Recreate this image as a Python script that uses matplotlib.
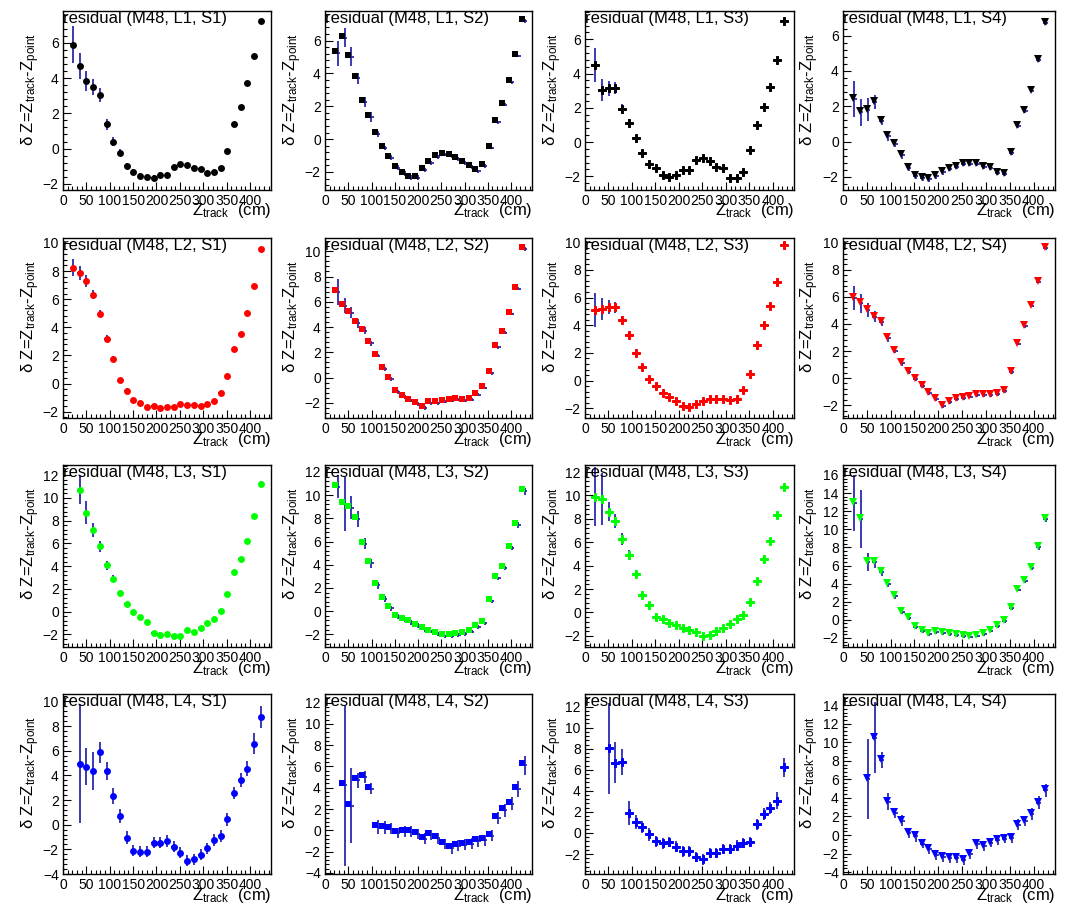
import matplotlib
matplotlib.use("Agg")
import matplotlib.pyplot as plt
from matplotlib.ticker import MultipleLocator, AutoMinorLocator
from matplotlib.transforms import offset_copy

plt.rcParams['font.family'] = ['Liberation Sans', 'DejaVu Sans']
plt.rcParams['mathtext.default'] = 'regular'

# z bin centres (cm)
z_bins = [7.2, 21.55, 35.9, 50.25, 64.6, 78.95, 93.3, 107.65, 122.0, 136.35,
          150.7, 165.05, 179.4, 193.75, 208.1, 222.45, 236.8, 251.15, 265.5,
          279.85, 294.2, 308.55, 322.9, 337.25, 351.6, 365.95, 380.3, 394.65,
          409.0, 423.35, 437.7]

layers = ["L1", "L2", "L3", "L4"]
stations = ["S1", "S2", "S3", "S4"]

# first filled bin per panel
first_bin = {
    "L1": [1, 1, 1, 1],
    "L2": [1, 1, 1, 1],
    "L3": [2, 1, 1, 1],
    "L4": [2, 2, 3, 3],
}

# ---- residuals and errors ----
L1_S1_dz = [5.9, 4.68, 3.83, 3.47, 3.03, 1.38, 0.38, -0.25, -0.98, -1.33, -1.55, -1.6, -1.67, -1.48, -1.48,
            -1.04, -0.89, -0.95, -1.12, -1.17, -1.38, -1.34, -1.12, -0.13, 1.38, 2.33, 3.69, 5.25, 7.22]
L1_S1_err = [1.07, 0.75, 0.55, 0.45, 0.4, 0.3, 0.25, 0.2, 0.18, 0.15, 0.15, 0.15, 0.15, 0.15, 0.15,
             0.12, 0.12, 0.12, 0.12, 0.12, 0.12, 0.12, 0.12, 0.1, 0.1, 0.1, 0.1, 0.1, 0.12]
L1_S2_dz = [5.35, 6.3, 5.15, 3.82, 2.36, 1.45, 0.44, -0.42, -1.0, -1.62, -1.98, -2.22, -2.22, -1.78, -1.35,
            -0.97, -0.83, -0.91, -1.09, -1.33, -1.58, -1.84, -1.52, -0.42, 1.15, 2.22, 3.58, 5.19, 7.31]
L1_S2_err = [0.75, 0.6, 0.55, 0.35, 0.3, 0.3, 0.2, 0.15, 0.15, 0.15, 0.15, 0.15, 0.15, 0.12, 0.12,
             0.1, 0.1, 0.1, 0.1, 0.1, 0.1, 0.1, 0.1, 0.08, 0.08, 0.08, 0.08, 0.08, 0.1]
L1_S3_dz = [4.48, 3.04, 3.14, 3.14, 1.92, 1.1, 0.23, -0.64, -1.26, -1.51, -1.94, -2.05, -1.94, -1.65, -1.61,
            -1.05, -0.93, -1.09, -1.45, -1.51, -2.11, -2.11, -1.76, -0.48, 1.01, 2.05, 3.24, 4.79, 7.07]
L1_S3_err = [1.0, 0.65, 0.45, 0.35, 0.3, 0.25, 0.2, 0.2, 0.2, 0.15, 0.15, 0.15, 0.15, 0.15, 0.15,
             0.12, 0.12, 0.12, 0.12, 0.12, 0.12, 0.12, 0.12, 0.1, 0.08, 0.08, 0.08, 0.08, 0.1]
L1_S4_dz = [2.47, 1.71, 1.85, 2.28, 1.24, 0.36, -0.08, -0.73, -1.43, -1.9, -2.0, -2.05, -1.9, -1.68, -1.49,
            -1.37, -1.21, -1.21, -1.24, -1.41, -1.45, -1.71, -1.79, -0.6, 0.96, 1.77, 2.94, 4.69, 6.8]
L1_S4_err = [1.0, 0.75, 0.65, 0.4, 0.25, 0.25, 0.2, 0.2, 0.18, 0.18, 0.18, 0.18, 0.18, 0.15, 0.15,
             0.12, 0.12, 0.12, 0.12, 0.12, 0.12, 0.12, 0.12, 0.12, 0.12, 0.1, 0.1, 0.1, 0.12]

L2_S1_dz = [8.24, 7.83, 7.29, 6.33, 4.95, 3.19, 1.76, 0.24, -0.5, -1.17, -1.4, -1.64, -1.57, -1.71, -1.64,
            -1.64, -1.48, -1.52, -1.52, -1.6, -1.48, -1.24, -0.64, 0.55, 2.45, 3.55, 5.0, 6.93, 9.55]
L2_S1_err = [0.6, 0.5, 0.45, 0.35, 0.25, 0.25, 0.2, 0.15, 0.15, 0.15, 0.15, 0.15, 0.15, 0.15, 0.15,
             0.12, 0.12, 0.12, 0.12, 0.12, 0.12, 0.12, 0.12, 0.1, 0.1, 0.1, 0.1, 0.1, 0.12]
L2_S2_dz = [6.94, 5.86, 5.3, 4.46, 3.88, 2.88, 1.9, 0.82, 0.03, -1.0, -1.35, -1.66, -1.93, -2.22, -1.87,
            -1.87, -1.77, -1.69, -1.61, -1.66, -1.61, -1.21, -0.66, 0.5, 2.56, 3.72, 5.2, 7.2, 10.34]
L2_S2_err = [1.0, 0.6, 0.45, 0.35, 0.3, 0.2, 0.15, 0.15, 0.15, 0.15, 0.15, 0.15, 0.15, 0.15, 0.12,
             0.12, 0.12, 0.12, 0.12, 0.12, 0.12, 0.12, 0.1, 0.1, 0.1, 0.1, 0.1, 0.1, 0.15]
L2_S3_dz = [5.1, 5.2, 5.3, 5.3, 4.4, 3.3, 2.0, 1.0, 0.1, -0.4, -0.9, -1.2, -1.5, -1.8, -1.9,
            -1.7, -1.5, -1.3, -1.3, -1.3, -1.4, -1.3, -0.7, 0.5, 2.6, 4.0, 5.4, 7.1, 9.8]
L2_S3_err = [1.2, 0.8, 0.5, 0.4, 0.3, 0.25, 0.2, 0.2, 0.15, 0.15, 0.15, 0.15, 0.15, 0.15, 0.15,
             0.12, 0.12, 0.12, 0.12, 0.12, 0.12, 0.12, 0.12, 0.1, 0.1, 0.1, 0.1, 0.1, 0.15]
L2_S4_dz = [6.0, 5.6, 5.1, 4.6, 4.2, 3.0, 2.1, 1.2, 0.5, 0.0, -0.5, -1.0, -1.5, -2.0, -1.7,
            -1.5, -1.4, -1.3, -1.2, -1.2, -1.2, -1.1, -0.9, 0.5, 2.6, 3.9, 5.4, 7.2, 9.7]
L2_S4_err = [0.9, 0.7, 0.5, 0.4, 0.3, 0.25, 0.2, 0.2, 0.15, 0.15, 0.15, 0.15, 0.15, 0.15, 0.15,
             0.12, 0.12, 0.12, 0.12, 0.12, 0.12, 0.12, 0.12, 0.1, 0.1, 0.1, 0.1, 0.1, 0.15]

L3_S1_dz = [10.74, 8.72, 7.16, 5.75, 4.08, 2.91, 1.64, 0.7, -0.03, -0.47, -0.91, -1.88, -2.02, -1.94,
            -2.14, -2.14, -1.64, -1.79, -1.44, -0.97, -0.62, 0.03, 1.53, 3.49, 4.67, 6.22, 8.42, 11.21]
L3_S1_err = [1.3, 1.05, 0.6, 0.5, 0.4, 0.3, 0.25, 0.2, 0.2, 0.2, 0.2, 0.2, 0.2, 0.2,
             0.2, 0.15, 0.15, 0.15, 0.15, 0.15, 0.15, 0.15, 0.15, 0.15, 0.15, 0.15, 0.2, 0.25]
L3_S2_dz = [10.9, 9.4, 9.1, 8.1, 6.0, 4.3, 2.4, 1.2, 0.4, -0.3, -0.6, -0.8, -1.1, -1.4, -1.6,
            -1.8, -2.0, -2.0, -1.9, -1.8, -1.6, -1.2, -0.9, 1.0, 3.0, 3.9, 5.6, 7.6, 10.5]
L3_S2_err = [1.0, 2.3, 1.0, 0.7, 0.5, 0.4, 0.3, 0.25, 0.2, 0.2, 0.2, 0.2, 0.2, 0.2, 0.15,
             0.15, 0.15, 0.15, 0.15, 0.15, 0.15, 0.15, 0.15, 0.15, 0.15, 0.15, 0.2, 0.25, 0.3]
L3_S3_dz = [9.9, 9.7, 8.6, 7.8, 6.3, 4.9, 3.3, 1.5, 0.6, -0.4, -0.6, -0.9, -1.1, -1.3, -1.5,
            -1.7, -2.0, -1.9, -1.6, -1.3, -1.0, -0.6, -0.2, 0.9, 2.7, 4.6, 6.1, 8.3, 10.7]
L3_S3_err = [2.5, 2.2, 0.8, 0.6, 0.5, 0.4, 0.3, 0.25, 0.2, 0.2, 0.2, 0.2, 0.2, 0.2, 0.15,
             0.15, 0.15, 0.15, 0.15, 0.15, 0.15, 0.15, 0.15, 0.15, 0.15, 0.15, 0.2, 0.25, 0.3]
L3_S4_dz = [12.97, 11.2, 6.47, 6.47, 5.36, 4.07, 2.7, 1.03, 0.3, -0.7, -1.11, -1.44, -1.26, -1.37, -1.5,
            -1.55, -1.7, -1.75, -1.62, -1.48, -1.07, -0.55, 0.0, 1.4, 3.44, 4.43, 5.84, 8.13, 11.27]
L3_S4_err = [3.1, 3.2, 1.0, 0.6, 0.4, 0.3, 0.3, 0.3, 0.2, 0.2, 0.2, 0.2, 0.2, 0.2, 0.2,
             0.2, 0.2, 0.2, 0.2, 0.2, 0.2, 0.2, 0.2, 0.2, 0.2, 0.2, 0.25, 0.3, 0.4]

L4_S1_dz = [4.96, 4.69, 4.34, 5.88, 4.34, 2.35, 0.7, -1.05, -2.13, -2.18, -2.21, -1.46, -1.46, -1.32,
            -1.78, -2.26, -2.94, -2.8, -2.45, -1.91, -1.24, -0.92, 0.43, 2.59, 3.61, 4.53, 6.58, 8.71]
L4_S1_err = [4.85, 1.5, 1.55, 0.85, 0.75, 0.65, 0.55, 0.5, 0.45, 0.45, 0.45, 0.45, 0.45, 0.45,
             0.45, 0.45, 0.45, 0.45, 0.45, 0.45, 0.45, 0.45, 0.5, 0.5, 0.55, 0.6, 0.85, 0.9]
L4_S2_dz = [4.4, 2.5, 4.9, 5.2, 4.1, 0.5, 0.45, 0.35, -0.05, 0.05, 0.05, -0.15, -0.6, -0.25,
            -0.55, -1.1, -1.5, -1.25, -1.15, -1.05, -0.85, -0.75, -0.3, 1.35, 2.05, 2.7, 4.1, 6.3]
L4_S2_err = [7.6, 3.5, 0.7, 0.6, 0.5, 0.7, 0.6, 0.5, 0.5, 0.5, 0.5, 0.5, 0.5, 0.5,
             0.5, 0.5, 0.5, 0.5, 0.5, 0.5, 0.5, 0.5, 0.5, 0.55, 0.6, 0.6, 0.75, 0.9]
L4_S3_dz = [8.04, 6.67, 6.73, 1.9, 1.03, 0.56, -0.12, -0.81, -1.0, -0.84, -1.31, -1.74, -1.74, -2.3,
            -2.52, -1.9, -1.9, -1.53, -1.53, -1.21, -0.97, -0.84, 0.81, 1.81, 2.37, 3.08, 6.26]
L4_S3_err = [4.3, 1.95, 1.2, 1.1, 0.7, 0.6, 0.6, 0.5, 0.5, 0.5, 0.5, 0.5, 0.5, 0.5,
             0.5, 0.5, 0.5, 0.5, 0.5, 0.5, 0.5, 0.5, 0.5, 0.55, 0.6, 0.8, 0.9]
L4_S4_dz = [6.15, 10.6, 8.2, 3.71, 2.47, 1.66, 0.35, -0.04, -0.81, -1.41, -2.05, -2.3, -2.4, -2.4,
            -2.58, -1.94, -0.88, -1.06, -0.71, -0.46, -0.28, -0.21, 1.24, 1.66, 2.37, 3.6, 4.91]
L4_S4_err = [4.35, 3.8, 0.9, 0.95, 0.55, 0.6, 0.55, 0.55, 0.5, 0.5, 0.5, 0.5, 0.5, 0.5,
             0.5, 0.5, 0.5, 0.5, 0.5, 0.5, 0.5, 0.5, 0.55, 0.55, 0.6, 0.7, 0.75]

# y ranges of each panel
y_ranges = {
    "L1": [(-2.35, 7.8), (-3.1, 7.8), (-2.8, 7.65), (-2.75, 7.4)],
    "L2": [(-2.45, 10.35), (-3.2, 11.05), (-2.7, 10.3), (-2.95, 10.35)],
    "L3": [(-3.1, 12.9), (-3.1, 12.6), (-2.95, 12.6), (-3.0, 17.1)],
    "L4": [(-4.0, 10.6), (-4.1, 12.8), (-3.9, 13.2), (-4.2, 15.2)],
}

data = {}
for L in layers:
    for S in stations:
        data[(L, S)] = (globals()[f"{L}_{S}_dz"], globals()[f"{L}_{S}_err"])

layer_color = {"L1": "black", "L2": "red", "L3": "#00ff00", "L4": "blue"}
# marker, size, edge width
station_marker = {"S1": ("o", 5.0, 0), "S2": ("s", 4.5, 0),
                  "S3": ("P", 5.6, 0.7), "S4": ("v", 5.5, 0)}
# error bars appear slightly shifted w.r.t. some markers in the original
bar_shift = {"S1": (0, 0), "S2": (3, -2), "S3": (0, 0), "S4": (1, -1)}
err_color = "#2a2ab0"
x_half = 5.0

W, H = 1069, 908
col_px = [(63, 271), (325, 532), (585, 794), (843, 1055)]
row_px = [(11, 190), (238, 418), (465, 647), (694, 874)]

fig = plt.figure(figsize=(W / 100, H / 100), dpi=100)

for r, L in enumerate(layers):
    for c, S in enumerate(stations):
        x0, x1 = col_px[c]
        y0, y1 = row_px[r]
        ax = fig.add_axes([x0 / W, 1 - y1 / H, (x1 - x0) / W, (y1 - y0) / H])
        dz, err = data[(L, S)]
        start = first_bin[L][c]
        z = z_bins[start:start + len(dz)]

        dx, dy = bar_shift[S]
        tr = offset_copy(ax.transData, fig=fig, x=dx, y=dy, units='dots')
        ax.errorbar(z, dz, yerr=err, xerr=x_half, fmt='none', ecolor=err_color,
                    elinewidth=1.3, capsize=0, transform=tr, zorder=2)
        mk, ms, mew = station_marker[S]
        ax.plot(z, dz, linestyle='none', marker=mk, markersize=ms,
                color=layer_color[L], markeredgecolor=layer_color[L],
                markeredgewidth=mew, zorder=3)

        ax.set_xlim(0, 445)
        ax.set_ylim(*y_ranges[L][c])
        ax.xaxis.set_major_locator(MultipleLocator(50))
        ax.xaxis.set_minor_locator(MultipleLocator(10))
        ax.yaxis.set_major_locator(MultipleLocator(2))
        ax.yaxis.set_minor_locator(AutoMinorLocator(5))
        ax.tick_params(which='both', direction='in', top=False, right=False,
                       labelsize=10, pad=3)
        ax.tick_params(which='major', length=6, width=0.8)
        ax.tick_params(which='minor', length=3, width=0.8)
        for sp in ax.spines.values():
            sp.set_linewidth(1.0)

        ax.text(0.0, 1.0, f"residual (M48, {L}, {S})", transform=ax.transAxes,
                ha='left', va='top', fontsize=12)
        ax.text(-0.155, 1 - 22 / 179, "δ $Z$=$Z_{track}$-$Z_{point}$",
                transform=ax.transAxes, rotation=90, ha='center', va='top', fontsize=12)
        ax.text(1.0, -0.142, "$Z_{track}$  (cm)", transform=ax.transAxes,
                ha='right', va='baseline', fontsize=12)

fig.savefig("out.png", dpi=100)
